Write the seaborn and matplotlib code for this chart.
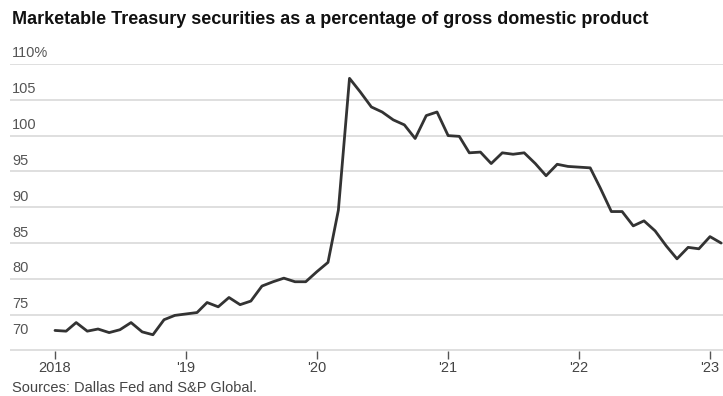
import matplotlib
matplotlib.use("Agg")
import matplotlib.pyplot as plt
import matplotlib.dates as mdates
import matplotlib.transforms as mtransforms
import seaborn as sns
import pandas as pd

# Monthly share of marketable Treasury securities in GDP (%), Jan 2018 - Feb 2023
start_month = "2018-01-01"
pct_2018 = [72.8, 72.7, 73.9, 72.7, 73.0, 72.5, 72.9, 73.9, 72.6, 72.2, 74.3, 74.9]
pct_2019 = [75.1, 75.3, 76.7, 76.1, 77.4, 76.4, 76.9, 79.0, 79.6, 80.1, 79.6, 79.6]
pct_2020 = [81.0, 82.3, 89.6, 108.0, 106.1, 104.0, 103.3, 102.2, 101.5, 99.6, 102.8, 103.3]
pct_2021 = [100.0, 99.9, 97.6, 97.7, 96.1, 97.6, 97.4, 97.6, 96.1, 94.4, 96.0, 95.7]
pct_2022 = [95.6, 95.5, 92.7, 89.4, 89.4, 87.4, 88.1, 86.7, 84.6, 82.8, 84.4, 84.2]
pct_2023 = [85.9, 85.0]

y_ticks = [70, 75, 80, 85, 90, 95, 100, 105, 110]
y_tick_labels = ["70", "75", "80", "85", "90", "95", "100", "105", "110%"]
x_tick_years = [2018, 2019, 2020, 2021, 2022, 2023]
x_tick_labels = ["2018", "'19", "'20", "'21", "'22", "'23"]

title = "Marketable Treasury securities as a percentage of gross domestic product"
source = "Sources: Dallas Fed and S&P Global."

values = pct_2018 + pct_2019 + pct_2020 + pct_2021 + pct_2022 + pct_2023
df = pd.DataFrame({
    "month": pd.date_range(start_month, periods=len(values), freq="MS"),
    "pct": values,
})

sns.set_theme(style="white")
plt.rcParams["font.family"] = ["Liberation Sans", "DejaVu Sans"]

W, H = 723, 396
fig = plt.figure(figsize=(W / 100, H / 100), dpi=100)
left_px, right_px, top_px, bottom_px = 10, 723, 64, 350.5
ax = fig.add_axes([left_px / W, 1 - bottom_px / H,
                   (right_px - left_px) / W, (bottom_px - top_px) / H])

# horizontal grid
for v in y_ticks:
    ax.axhline(v, color="#dcdcdc", lw=1.3, zorder=0)

sns.lineplot(data=df, x="month", y="pct", ax=ax, color="#333333",
             linewidth=2.0, zorder=3)

ax.set_ylim(70, 110)
x0 = pd.Timestamp("2018-01-01")
day_per_px = (pd.Timestamp("2023-01-01") - x0).days / (710 - 55)
ax.set_xlim(mdates.date2num(x0 - pd.Timedelta(days=(55 - left_px) * day_per_px)),
            mdates.date2num(pd.Timestamp("2023-01-01")
                            + pd.Timedelta(days=(right_px - 710) * day_per_px)))

for s in ax.spines.values():
    s.set_visible(False)
ax.set_xlabel("")
ax.set_ylabel("")
ax.set_yticks([])

tick_dates = [pd.Timestamp(f"{y}-01-01") for y in x_tick_years]
ax.set_xticks(tick_dates)
ax.set_xticklabels(x_tick_labels)
ax.tick_params(axis="x", length=6, width=1.0, color="#555555", pad=1.5,
               labelsize=10.5, labelcolor="#444444", bottom=True)

# y labels sit above their gridlines at the left edge
trans = mtransforms.blended_transform_factory(fig.transFigure, ax.transData)
for v, lab in zip(y_ticks, y_tick_labels):
    off = 20 if v == 70 else 10.5
    t = mtransforms.offset_copy(trans, fig=fig, x=0, y=off, units="dots")
    ax.text(12 / W, v, lab, transform=t, ha="left", va="center",
            fontsize=10.5, color="#555555")

fig.text(12 / W, 1 - 20 / H, title, ha="left", va="center",
         fontsize=13, fontweight="bold", color="#111111")
fig.text(12 / W, 1 - 388 / H, source, ha="left", va="center",
         fontsize=10.5, color="#444444")

fig.savefig("out.png", dpi=100)
